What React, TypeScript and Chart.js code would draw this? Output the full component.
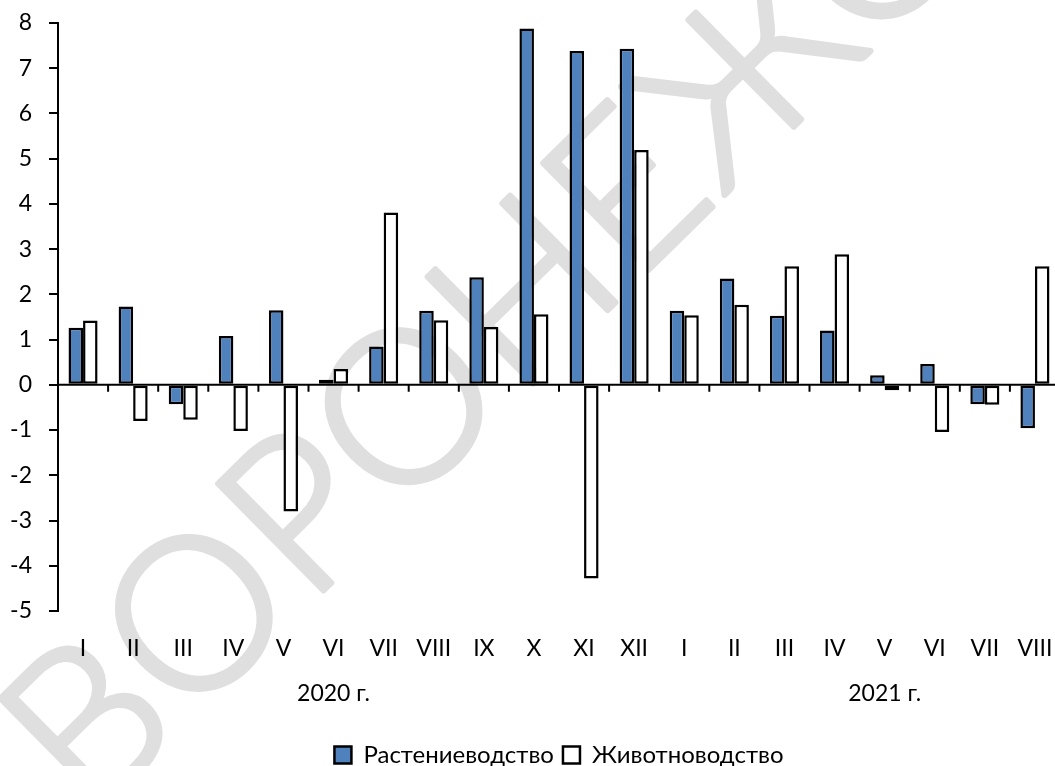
import { useEffect, useRef } from 'react';
import { Chart, registerables } from 'chart.js';

Chart.register(...registerables);

const months2020 = ['I', 'II', 'III', 'IV', 'V', 'VI', 'VII', 'VIII', 'IX', 'X', 'XI', 'XII'];
const months2021 = ['I', 'II', 'III', 'IV', 'V', 'VI', 'VII', 'VIII'];
const yearLabels = ['2020 г.', '2021 г.'];
const seriesNames = ['Растениеводство', 'Животноводство'];
const cropValues = [1.26, 1.73, -0.43, 1.08, 1.65, 0.11, 0.85, 1.64, 2.38, 7.88, 7.38, 7.43, 1.64, 2.35, 1.53, 1.2, 0.21, 0.46, -0.43, -0.96];
const livestockValues = [1.42, -0.8, -0.77, -1.02, -2.8, 0.35, 3.81, 1.43, 1.28, 1.56, -4.28, 5.19, 1.54, 1.77, 2.62, 2.89, -0.12, -1.04, -0.44, 2.62];
const yMin = -5;
const yMax = 8;
const yStep = 1;
const watermarkText = 'ВОРОНЕЖСТАТ';

const FONT = 'Lato';

export default function App() {
  const ref = useRef<HTMLCanvasElement>(null);

  useEffect(() => {
    document.body.style.overflow = 'hidden';
    document.documentElement.style.overflow = 'hidden';
    if (!ref.current) return;

    const labels: (string | string[])[] = [
      ...months2020.map((m, i) => (i === 5 ? [m, yearLabels[0]] : m)),
      ...months2021.map((m, i) => (i === 4 ? [m, yearLabels[1]] : m)),
    ];

    const watermark = {
      id: 'watermark',
      beforeDraw(chart: any) {
        const ctx = chart.ctx;
        ctx.save();
        ctx.fillStyle = '#dfdfdf';
        ctx.strokeStyle = '#dfdfdf';
        ctx.lineWidth = 6;
        ctx.lineJoin = 'round';
        ctx.font = `300 212px ${FONT}`;
        try {
          (ctx as any).letterSpacing = '2px';
        } catch (e) {}
        ctx.translate(42, 772);
        ctx.rotate((-44.6 * Math.PI) / 180);
        ctx.textAlign = 'left';
        ctx.textBaseline = 'middle';
        ctx.fillText(watermarkText, 0, 0);
        ctx.strokeText(watermarkText, 0, 0);
        ctx.restore();
      },
    };

    const zeroAxis = {
      id: 'zeroAxis',
      afterDatasetsDraw(chart: any) {
        const { ctx, chartArea, scales } = chart;
        const x = scales.x;
        const y = scales.y;
        const y0 = y.getPixelForValue(0);
        ctx.save();
        ctx.strokeStyle = '#000';
        ctx.lineWidth = 2;
        ctx.beginPath();
        ctx.moveTo(chartArea.left, y0);
        ctx.lineTo(chartArea.right, y0);
        ctx.stroke();
        ctx.beginPath();
        for (let i = 1; i <= labels.length; i++) {
          const xb =
            i < labels.length
              ? (x.getPixelForValue(i - 1) + x.getPixelForValue(i)) / 2
              : chartArea.right;
          ctx.moveTo(xb, y0);
          ctx.lineTo(xb, y0 + 7);
        }
        ctx.stroke();
        ctx.restore();
      },
    };

    const chart = new Chart(ref.current, {
      type: 'bar',
      data: {
        labels,
        datasets: [
          {
            label: seriesNames[0],
            data: cropValues,
            backgroundColor: '#4F81BD',
            borderColor: '#000',
            borderWidth: 2.5,
            borderSkipped: false,
            categoryPercentage: 0.58,
            barPercentage: 1,
          },
          {
            label: seriesNames[1],
            data: livestockValues,
            backgroundColor: '#FFFFFF',
            borderColor: '#000',
            borderWidth: 2.5,
            borderSkipped: false,
            categoryPercentage: 0.58,
            barPercentage: 1,
          },
        ],
      },
      options: {
        animation: false,
        responsive: true,
        maintainAspectRatio: false,
        layout: { padding: { top: 23, left: 0, right: 0, bottom: 0 } },
        plugins: {
          tooltip: { enabled: false },
          legend: {
            position: 'bottom',
            fullSize: false,
            labels: {
              font: { family: FONT, size: 24 },
              color: '#000',
              boxWidth: 17,
              boxHeight: 17,
              padding: 9,
            },
          },
        },
        scales: {
          x: {
            grid: { display: false },
            border: { display: false },
            ticks: {
              font: { family: FONT, size: 23, lineHeight: 1.96 },
              color: '#000',
              padding: 7,
              maxRotation: 0,
              minRotation: 0,
              autoSkip: false,
            },
            afterFit(s: any) {
              s.height = 123;
              s.paddingLeft = 0;
              s.paddingRight = 0;
            },
          },
          y: {
            min: yMin,
            max: yMax,
            ticks: {
              stepSize: yStep,
              font: { family: FONT, size: 23 },
              color: '#000',
              padding: 17,
            },
            grid: {
              drawOnChartArea: false,
              drawTicks: true,
              tickLength: 9,
              color: '#000',
              lineWidth: 2,
            },
            border: { display: true, color: '#000', width: 2 },
            afterFit(s: any) {
              s.width = 58;
              s.paddingTop = 0;
              s.paddingBottom = 0;
            },
          },
        },
      },
      plugins: [watermark, zeroAxis],
    });

    return () => chart.destroy();
  }, []);

  return (
    <div style={{ position: 'absolute', left: 0, top: 0, width: 1060, height: 777 }}>
      <canvas ref={ref} />
    </div>
  );
}
